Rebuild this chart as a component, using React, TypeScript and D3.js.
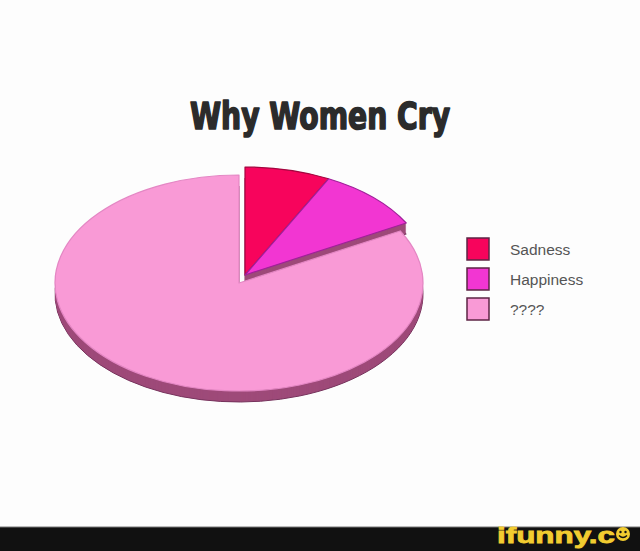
import React from 'react';
import * as d3 from 'd3';

// chart data
const categories = ['Sadness', 'Happiness', '????'];
const values = [7.5, 9.5, 83];
const colors = ['#f7045c', '#f236d2', '#f99ad6'];
const edgeColors = ['#a3063f', '#a0209a', '#e487c4'];
const exploded = [true, true, false];
const title = 'Why Women Cry';

const W = 640;
const H = 551;

// 3D pie geometry
const cx = 239;
const cy = 283;
const rx = 184;
const ry = 108;
const depth = 11;
const explode = { dx: 6, dy: -8 };
const sideColor = '#9e4a79';
const sideEdge = '#76325c';

const pie = d3.pie<number>().sort(null).value(d => d);
const arcGen = d3.arc<d3.PieArcDatum<number>>().innerRadius(0).outerRadius(rx);

const App: React.FC = () => {
  const slices = pie(values);
  const yScale = ry / rx;

  const legendY = d3.scalePoint<string>()
    .domain(categories)
    .range([249, 309]);

  return (
    <svg width={W} height={H} style={{ position: 'absolute', left: 0, top: 0, background: '#fff' }}>
      <rect x={0} y={0} width={W} height={H} fill="#fdfdfd" />

      {/* Title, thickened to look like a heavy condensed face */}
      <text
        x={320}
        y={129}
        textAnchor="middle"
        textLength={260}
        lengthAdjust="spacingAndGlyphs"
        stroke="#2b2b2b"
        strokeWidth={1.6}
        strokeLinejoin="round"
        style={{ fontFamily: '"Liberation Sans Narrow", "DejaVu Sans Condensed", "Liberation Sans", sans-serif', fontWeight: 'bold', fontSize: 37, fill: '#2b2b2b' }}
      >
        {title}
      </text>

      {/* Pie slices: back to front */}
      {slices.map((s, i) => {
        const ox = exploded[i] ? explode.dx : 0;
        const oy = exploded[i] ? explode.dy : 0;
        const d = arcGen(s) || '';
        const layers = d3.range(depth, 0, -1);
        return (
          <g key={categories[i]}>
            {layers.map(k => (
              <path
                key={k}
                d={d}
                transform={`translate(${cx + ox}, ${cy + oy + k}) scale(1, ${yScale})`}
                fill={sideColor}
                stroke={k === depth ? sideEdge : 'none'}
                strokeWidth={1}
                vectorEffect="non-scaling-stroke"
              />
            ))}
            <path
              d={d}
              transform={`translate(${cx + ox}, ${cy + oy}) scale(1, ${yScale})`}
              fill={colors[i]}
              stroke={edgeColors[i]}
              strokeWidth={1.2}
              strokeLinejoin="round"
              vectorEffect="non-scaling-stroke"
            />
          </g>
        );
      })}

      {/* Legend */}
      {categories.map((c, i) => {
        const y = legendY(c) as number;
        return (
          <g key={c}>
            <rect x={467} y={y - 11} width={22} height={22} fill={colors[i]} stroke="#5c2444" strokeWidth={1.5} />
            <text
              x={510}
              y={y}
              dominantBaseline="central"
              style={{ fontFamily: '"Liberation Sans", Arial, sans-serif', fontSize: 15.5, fill: '#555' }}
            >
              {c}
            </text>
          </g>
        );
      })}

      {/* Watermark band */}
      <rect x={0} y={527} width={W} height={H - 527} fill="#111" />
      <line x1={0} x2={W} y1={527} y2={527} stroke="#777" strokeWidth={1} />
      <text
        x={497}
        y={543}
        textLength={118}
        lengthAdjust="spacingAndGlyphs"
        stroke="#f2cc30"
        strokeWidth={0.8}
        style={{ fontFamily: '"Liberation Sans", Arial, sans-serif', fontWeight: 'bold', fontSize: 22, fill: '#f2cc30' }}
      >
        ifunny.c
      </text>
      <g transform="translate(623, 534)">
        <circle r={7} fill="#f2cc30" />
        <circle cx={-2.5} cy={-2} r={1.2} fill="#111" />
        <circle cx={2.5} cy={-2} r={1.2} fill="#111" />
        <path d="M -4 1.5 Q 0 5.5 4 1.5" fill="none" stroke="#111" strokeWidth={1.3} />
      </g>
    </svg>
  );
};

export default App;
